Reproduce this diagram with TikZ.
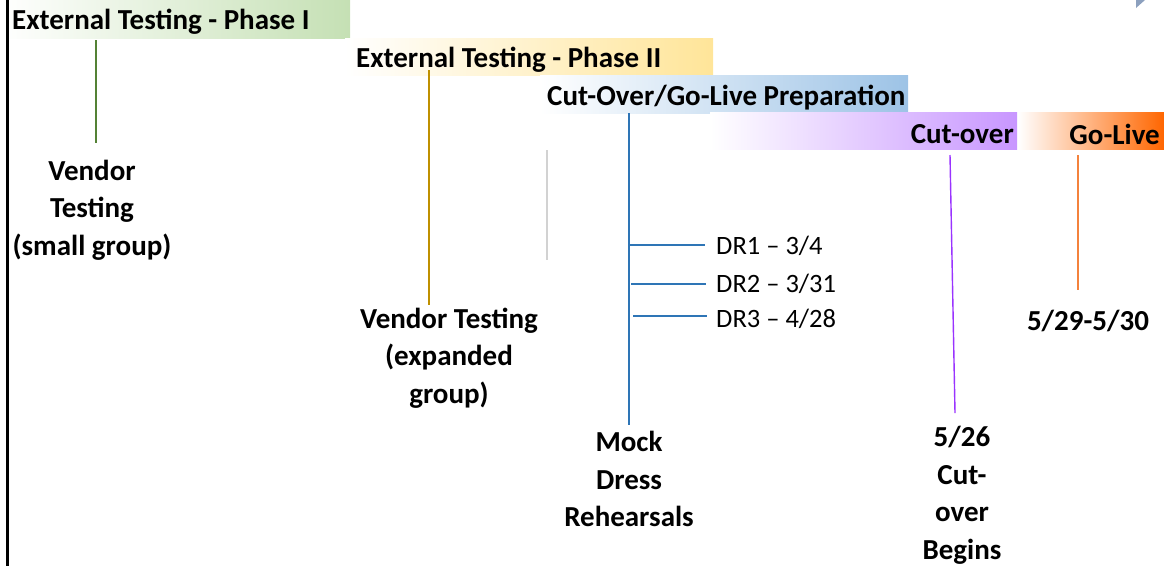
\documentclass[tikz,border=0pt]{standalone}
\usepackage{fontspec}
\setmainfont{Carlito}
\definecolor{cgreen}{RGB}{197,224,180}
\definecolor{cyellow}{RGB}{255,229,153}
\definecolor{cblue}{RGB}{157,195,230}
\definecolor{cpurple}{RGB}{200,150,255}
\definecolor{corange}{RGB}{255,102,0}
\definecolor{ctri}{RGB}{140,160,190}
\definecolor{lgreen}{RGB}{84,130,53}
\definecolor{lgold}{RGB}{191,144,0}
\definecolor{lgray}{RGB}{210,210,210}
\definecolor{lblue}{RGB}{46,117,182}
\definecolor{lpurple}{RGB}{153,51,255}
\definecolor{lorange}{RGB}{244,130,60}
\begin{document}
\begin{tikzpicture}[x=1pt,y=-1pt,
  lbl/.style={font=\bfseries\fontsize{29}{37.5}\selectfont, inner sep=0pt, align=center},
  bartxt/.style={font=\bfseries\fontsize{29}{34}\selectfont, inner sep=0pt},
  drtxt/.style={font=\fontsize{26.5}{30}\selectfont, inner sep=0pt, anchor=west},
  conn/.style={line width=1.2pt}
]
\useasboundingbox (0,0) rectangle (1164,566);
% bars
\fill[left color=white, right color=cgreen] (0,0) rectangle (350,38);
\fill[left color=white, right color=cyellow] (345,38) rectangle (713,75);
\fill[left color=white, right color=cblue] (540,75) rectangle (908,113);
\fill[left color=white, right color=cpurple] (710,112) rectangle (1017,149);
\fill[left color=white, right color=corange] (1018,112) rectangle (1164,149);
% bar texts
\node[bartxt, anchor=west] (p1) at (12,22) {External Testing - Phase I};
\node[bartxt, anchor=west] (p2) at (356,59.5) {External Testing - Phase II};
\node[bartxt, anchor=west] (prep) at (547,97.5) {Cut-Over/Go-Live Preparation};
\node[bartxt, anchor=east] (co) at (1014,134.5) {Cut-over};
\node[bartxt, anchor=east] (gl) at (1160,134.5) {Go-Live};
% left border
\draw[line width=3pt] (7,0) -- (7,566);
% small triangle
\fill[ctri] (1136,0) -- (1145,0) -- (1136,8) -- cycle;
% labels
\node[lbl] (vt1) at (92,210) {Vendor\\Testing\\(small group)};
\node[lbl] (vt2) at (449,358) {Vendor Testing\\(expanded\\group)};
\node[lbl] (mock) at (629,479) {Mock\\Dress\\Rehearsals};
\node[lbl] (cob) at (962,495.5) {5/26\\Cut-\\over\\Begins};
\node[lbl] (glv) at (1088,321) {5/29-5/30};
% connectors
\coordinate (g1) at (96,40); \coordinate (g2) at (96,143);
\draw[conn, lgreen] (g1) -- (g2);
\coordinate (y1) at (429,70); \coordinate (y2) at (429,305);
\draw[conn, lgold] (y1) -- (y2);
\coordinate (gr1) at (547,150); \coordinate (gr2) at (547,260);
\draw[line width=1.5pt, lgray] (gr1) -- (gr2);
\coordinate (b1) at (629,113); \coordinate (b2) at (629,425);
\draw[line width=1.4pt, lblue] (b1) -- (b2);
\coordinate (pu1) at (950,155); \coordinate (pu2) at (955,413);
\draw[line width=1.4pt, lpurple] (pu1) -- (pu2);
\coordinate (o1) at (1078,155); \coordinate (o2) at (1078,290);
\draw[line width=1.4pt, lorange] (o1) -- (o2);
% DR branches
\node[drtxt] (dr1) at (716,246) {DR1 – 3/4};
\node[drtxt] (dr2) at (716,284) {DR2 – 3/31};
\node[drtxt] (dr3) at (716,319) {DR3 – 4/28};
\coordinate (s1) at (629,245); \coordinate (s2) at (631,284); \coordinate (s3) at (633,316);
\coordinate (e1) at (705,245); \coordinate (e2) at (706,284); \coordinate (e3) at (707,316);
\draw[conn, lblue] (s1) -- (e1);
\draw[conn, lblue] (s2) -- (e2);
\draw[conn, lblue] (s3) -- (e3);
\end{tikzpicture}
\end{document}
